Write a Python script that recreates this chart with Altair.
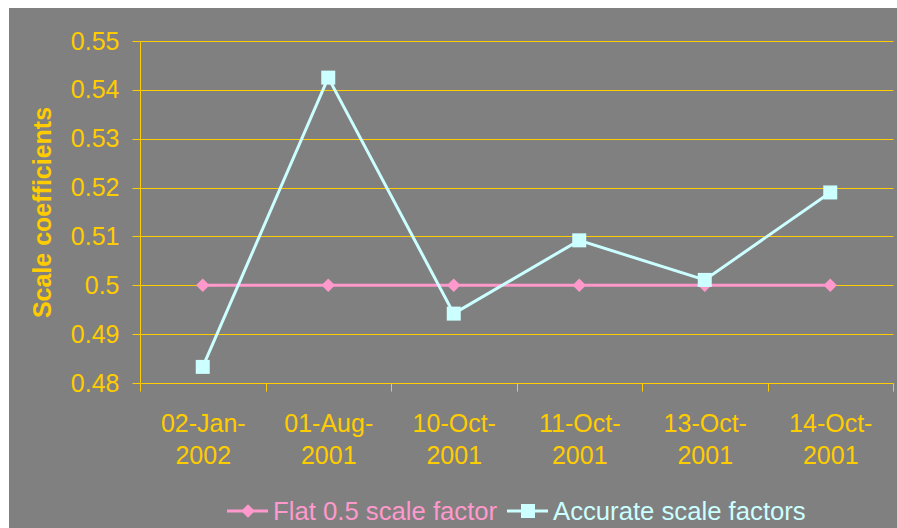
import altair as alt
import pandas as pd

# Observation dates and the two sets of scale coefficients
dates = ["02-Jan-2002", "01-Aug-2001", "10-Oct-2001", "11-Oct-2001", "13-Oct-2001", "14-Oct-2001"]
flat_factor = [0.5, 0.5, 0.5, 0.5, 0.5, 0.5]
accurate_factor = [0.4833, 0.5425, 0.4942, 0.5092, 0.5011, 0.5190]
series_names = ["Flat 0.5 scale factor", "Accurate scale factors"]
y_ticks = [0.48, 0.49, 0.50, 0.51, 0.52, 0.53, 0.54, 0.55]

GOLD = "#FFCC00"
PINK = "#FF99CC"
CYAN = "#CCFFFF"
GRAY = "#808080"
FONT = "Liberation Sans"

df = pd.DataFrame({"date": dates, "flat": flat_factor, "accurate": accurate_factor})

x_enc = alt.X(
    "date:N",
    sort=dates,
    scale=alt.Scale(type="band", paddingInner=0, paddingOuter=0),
    axis=alt.Axis(
        title=None,
        labelAngle=0,
        tickBand="extent",
        tickSize=8,
        grid=False,
        labelExpr="[slice(datum.label, 0, 7), slice(datum.label, 7)]",
        labelLineHeight=32,
        labelPadding=20,
        labelBaseline="top",
    ),
)

y_scale = alt.Scale(domain=[0.48, 0.55], nice=False, zero=False)
y_axis = alt.Axis(
    values=y_ticks,
    format=".2~f",
    tickSize=8,
    labelPadding=13,
    title="Scale coefficients",
    titleFontWeight="bold",
    titleFontSize=25,
    titlePadding=15,
    grid=True,
)

base = alt.Chart(df).encode(x=x_enc)

flat_line = base.mark_line(color=PINK, strokeWidth=3).encode(
    y=alt.Y("flat:Q", scale=y_scale, axis=y_axis)
)
flat_pts = base.mark_point(shape="diamond", filled=True, size=180, color=PINK, opacity=1).encode(
    y=alt.Y("flat:Q", scale=y_scale, axis=y_axis)
)
acc_line = base.mark_line(color=CYAN, strokeWidth=3).encode(
    y=alt.Y("accurate:Q", scale=y_scale, axis=y_axis)
)
acc_pts = base.mark_point(shape="square", filled=True, size=196, color=CYAN, opacity=1).encode(
    y=alt.Y("accurate:Q", scale=y_scale, axis=y_axis)
)

# White strips along the left and top edges of the canvas
one = pd.DataFrame({"k": [0]})
strip_left = alt.Chart(one).mark_rect(color="white").encode(
    x=alt.value(-141), x2=alt.value(-131), y=alt.value(-42), y2=alt.value(488)
)
strip_top = alt.Chart(one).mark_rect(color="white").encode(
    x=alt.value(-141), x2=alt.value(758), y=alt.value(-42), y2=alt.value(-33)
)


def legend_item(name, color, shape, size, x0):
    item = alt.Chart(pd.DataFrame({"label": [name]}))
    rule = item.mark_rule(color=color, strokeWidth=3).encode(
        x=alt.value(x0), x2=alt.value(x0 + 41), y=alt.value(470)
    )
    sym = item.mark_point(shape=shape, filled=True, size=size, color=color, opacity=1).encode(
        x=alt.value(x0 + 21), y=alt.value(470)
    )
    txt = item.mark_text(
        align="left", baseline="middle", font=FONT, fontSize=25.7, color=color, dy=1
    ).encode(x=alt.value(x0 + 46), y=alt.value(470), text="label:N")
    return rule + sym + txt


legend_flat = legend_item(series_names[0], PINK, "diamond", 180, 87)
legend_acc = legend_item(series_names[1], CYAN, "square", 196, 367)

chart = (
    alt.layer(
        strip_left, strip_top,
        flat_line, flat_pts, acc_line, acc_pts,
        legend_flat, legend_acc,
    )
    .properties(
        width=753,
        height=342,
        autosize=alt.AutoSizeParams(type="none"),
        padding={"left": 140, "top": 41, "right": 4, "bottom": 145},
        background=GRAY,
    )
    .configure_view(strokeWidth=0)
    .configure_axis(
        domainColor=GOLD,
        domainWidth=1,
        tickColor=GOLD,
        tickWidth=1,
        gridColor=GOLD,
        gridWidth=1.2,
        gridOpacity=1,
        labelColor=GOLD,
        titleColor=GOLD,
        labelFont=FONT,
        titleFont=FONT,
        labelFontSize=25,
    )
)

chart.save("out.html", embed_options={"renderer": "svg", "actions": False})
